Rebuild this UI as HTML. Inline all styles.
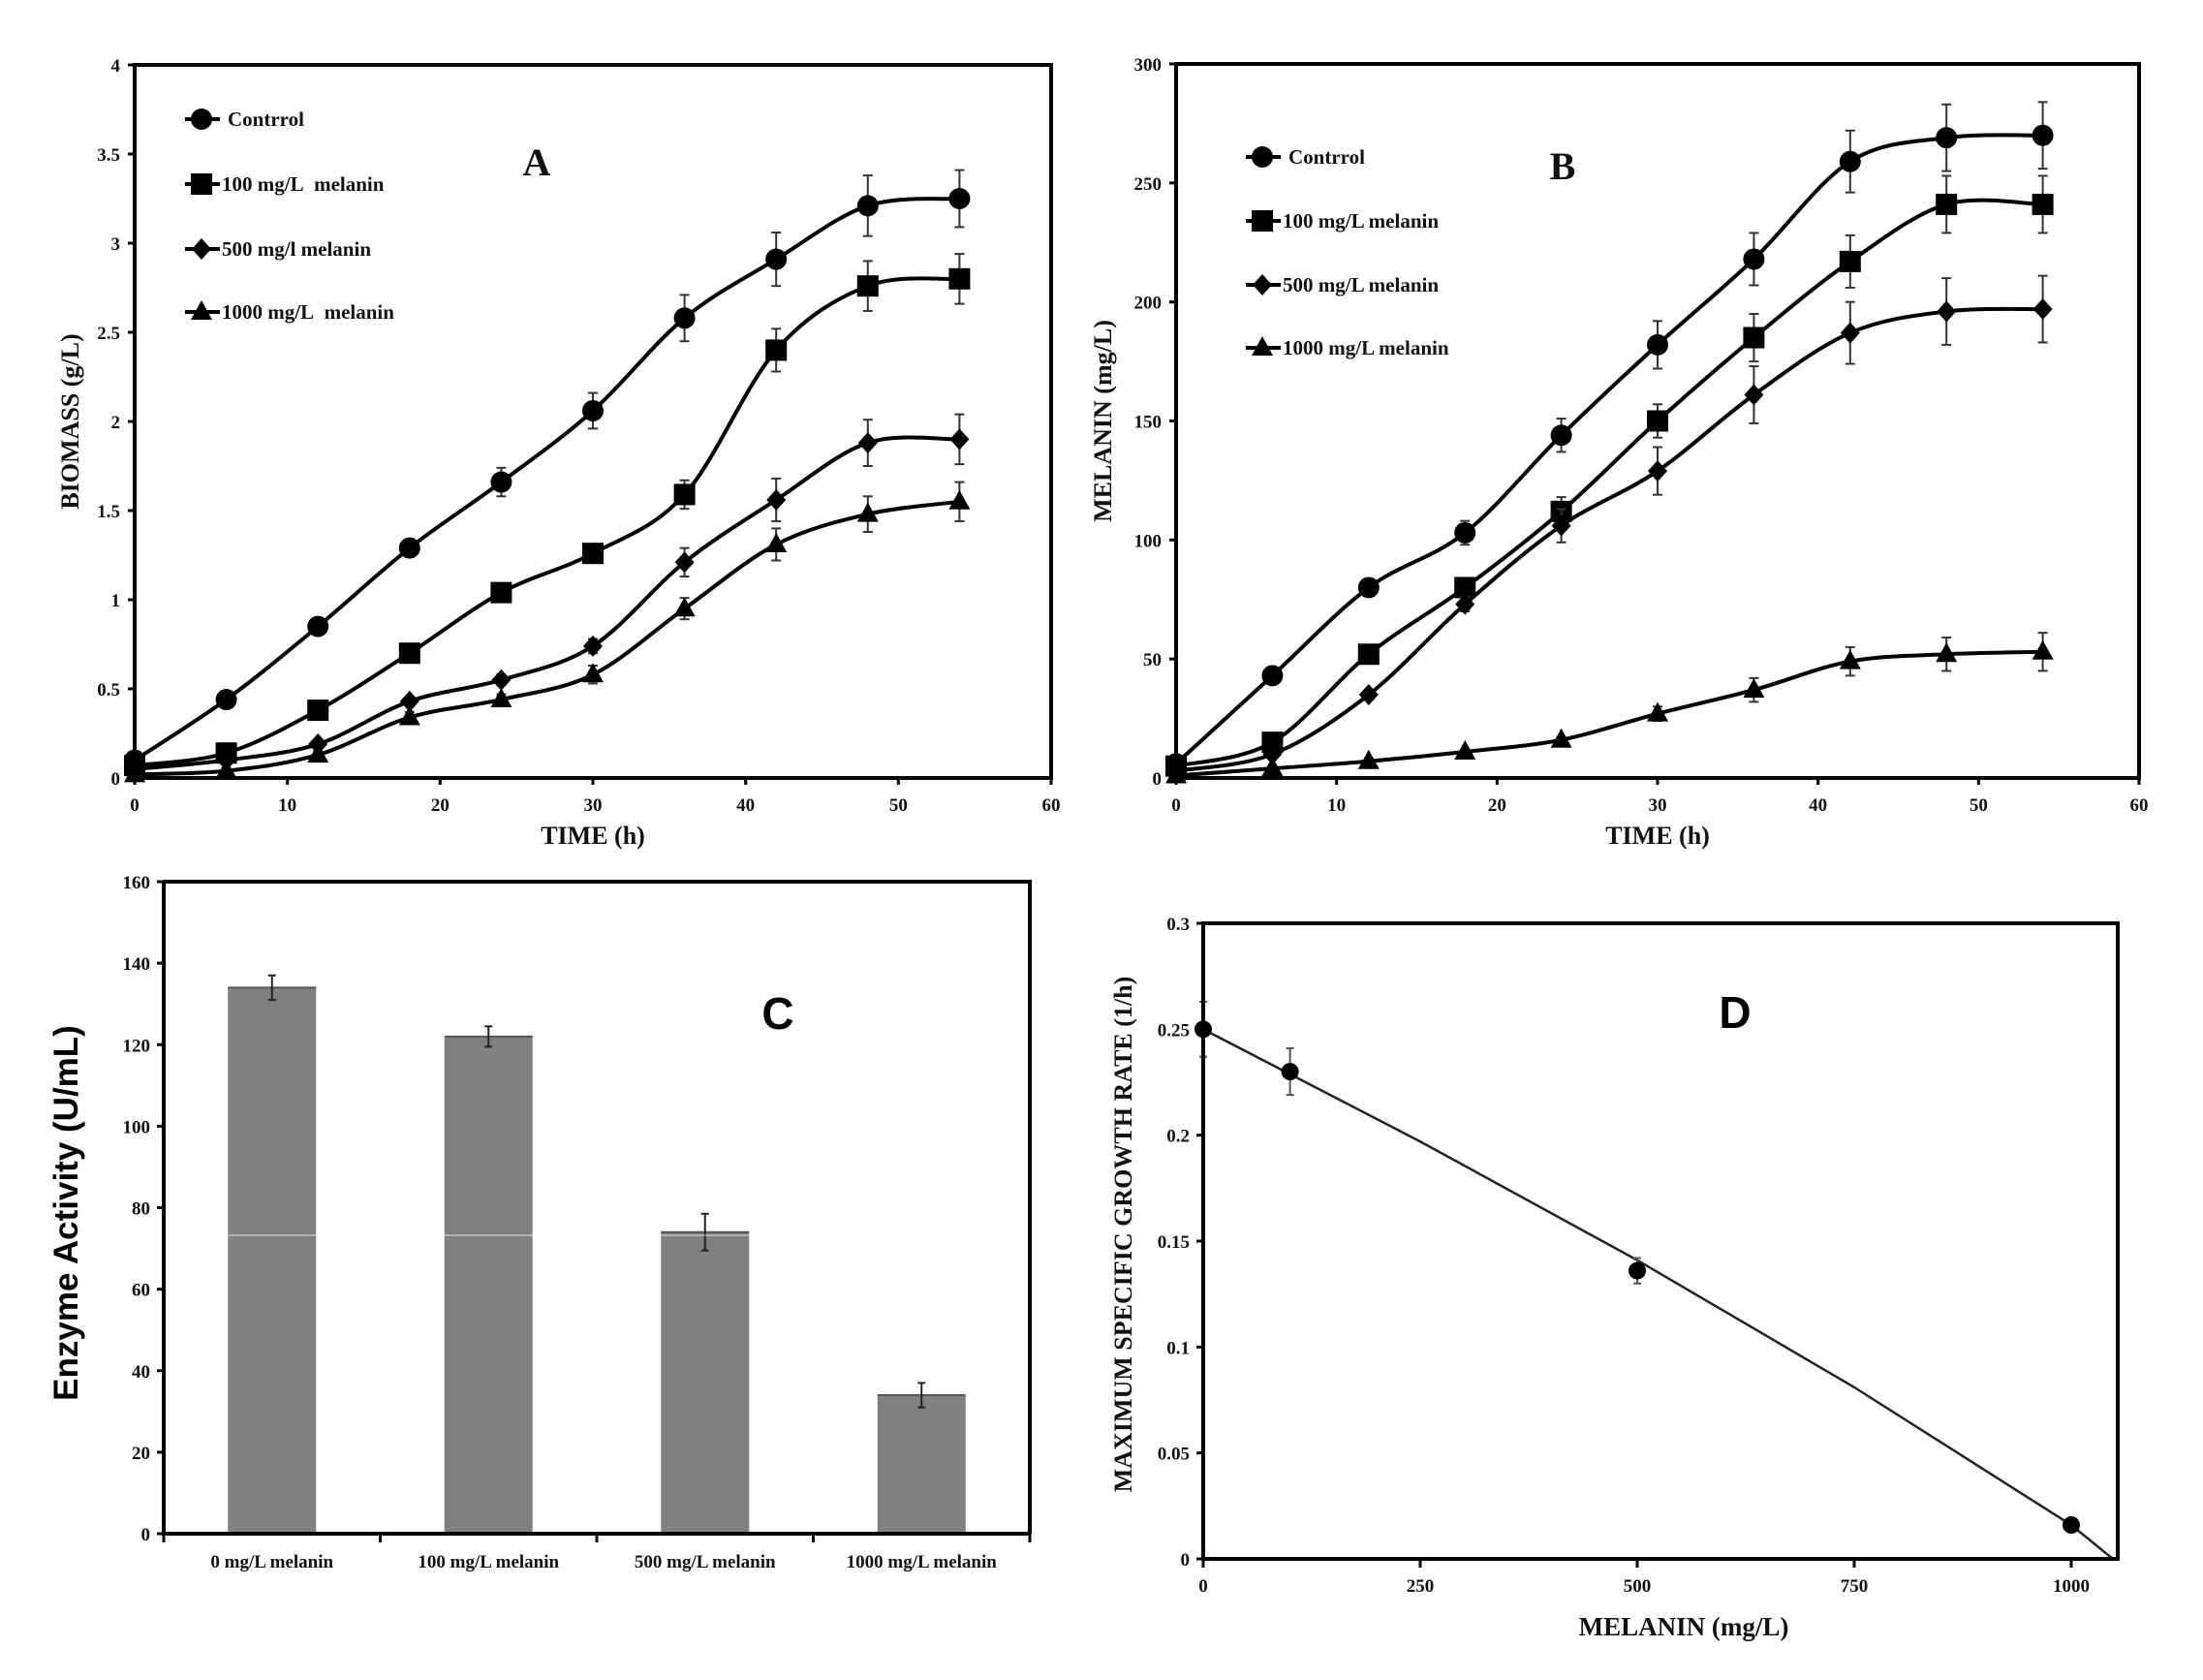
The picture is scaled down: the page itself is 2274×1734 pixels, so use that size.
<!DOCTYPE html>
<html><head><meta charset="utf-8"><style>
html,body{margin:0;padding:0;background:#fff;}
svg{display:block;}
.t{font-family:"Liberation Serif",serif;font-weight:bold;fill:#111;}
.s{font-family:"Liberation Sans",sans-serif;font-weight:bold;fill:#000;}
</style></head><body>
<svg id="fig" width="2274" height="1734" viewBox="0 0 2274 1734" xmlns="http://www.w3.org/2000/svg">
<rect width="2274" height="1734" fill="#fff"/>
</svg>
<script>
// ---------- DATA ----------
const timeH = [0,6,12,18,24,30,36,42,48,54];
const seriesNames = ["Contrrol","100 mg/L\u00a0 melanin","500 mg/l melanin","1000 mg/L\u00a0 melanin"];
const seriesNamesB = ["Contrrol","100 mg/L melanin","500 mg/L melanin","1000 mg/L melanin"];
const bioControl = [0.10,0.44,0.85,1.29,1.66,2.06,2.58,2.91,3.21,3.25];
const bio100 = [0.07,0.14,0.38,0.70,1.04,1.26,1.59,2.40,2.76,2.80];
const bio500 = [0.05,0.10,0.19,0.43,0.55,0.74,1.21,1.56,1.88,1.90];
const bio1000 = [0.02,0.04,0.13,0.34,0.44,0.58,0.95,1.31,1.48,1.55];
const bioErrControl = [0.02,0.02,0.03,0.05,0.08,0.10,0.13,0.15,0.17,0.16];
const bioErr100 = [0.02,0.02,0.03,0.03,0.03,0.05,0.08,0.12,0.14,0.14];
const bioErr500 = [0.01,0.01,0.02,0.02,0.03,0.04,0.08,0.12,0.13,0.14];
const bioErr1000 = [0.01,0.01,0.02,0.03,0.03,0.05,0.06,0.09,0.10,0.11];
const melControl = [6,43,80,103,144,182,218,259,269,270];
const mel100 = [5,15,52,80,112,150,185,217,241,241];
const mel500 = [3,10,35,73,106,129,161,187,196,197];
const mel1000 = [1,4,7,11,16,27,37,49,52,53];
const melErrControl = [2,3,3,5,7,10,11,13,14,14];
const melErr100 = [2,2,3,3,6,7,10,11,12,12];
const melErr500 = [1,2,2,3,7,10,12,13,14,14];
const melErr1000 = [1,1,1,1,1,3,5,6,7,8];
const barCats = ["0 mg/L melanin","100 mg/L melanin","500 mg/L melanin","1000 mg/L melanin"];
const barVals = [134,122,74,34];
const barErr = [3,2.5,4.5,3];
const muX = [0,100,500,1000];
const muY = [0.25,0.23,0.136,0.016];
const muErr = [0.013,0.011,0.006,0.002];
const fitX = [0,250,500,750,1000,1048];
const fitY = [0.25,0.197,0.141,0.081,0.016,0];
const ticksA = ["0","0.5","1","1.5","2","2.5","3","3.5","4"];
const ticksB = ["0","50","100","150","200","250","300"];
const ticksTime = ["0","10","20","30","40","50","60"];
const ticksC = ["0","20","40","60","80","100","120","140","160"];
const ticksDY = ["0","0.05","0.1","0.15","0.2","0.25","0.3"];
const ticksDX = ["0","250","500","750","1000"];

// ---------- HELPERS ----------
const NS="http://www.w3.org/2000/svg";
const svg=document.getElementById('fig');
function mk(tag,attrs,parent){const e=document.createElementNS(NS,tag);for(const k in attrs)e.setAttribute(k,attrs[k]);(parent||svg).appendChild(e);return e;}
function txt(s,x,y,cls,size,anchor,parent,rot){const e=mk('text',{x:x,y:y,'class':cls,'font-size':size,'text-anchor':anchor||'middle'},parent);if(rot)e.setAttribute('transform','rotate(-90 '+x+' '+y+')');e.textContent=s;return e;}
function lin(a0,a1,p0,p1){return v=>p0+(v-a0)/(a1-a0)*(p1-p0);}
function spline(pts){let d='M'+pts[0][0]+','+pts[0][1];for(let i=0;i<pts.length-1;i++){const p0=pts[i-1]||pts[i],p1=pts[i],p2=pts[i+1],p3=pts[i+2]||p2;const c1x=p1[0]+(p2[0]-p0[0])/6,c1y=p1[1]+(p2[1]-p0[1])/6,c2x=p2[0]-(p3[0]-p1[0])/6,c2y=p2[1]-(p3[1]-p1[1])/6;d+=' C'+c1x+','+c1y+' '+c2x+','+c2y+' '+p2[0]+','+p2[1];}return d;}
function marker(kind,x,y,g){
  let e;
  if(kind===0)e=mk('circle',{cx:x,cy:y,r:11,fill:'#000'},g);
  else if(kind===1)e=mk('rect',{x:x-11,y:y-11,width:22,height:22,fill:'#000'},g);
  else if(kind===2)e=mk('polygon',{points:(x)+','+(y-11)+' '+(x+10)+','+y+' '+x+','+(y+11)+' '+(x-10)+','+y,fill:'#000'},g);
  else e=mk('polygon',{points:x+','+(y-12)+' '+(x+11)+','+(y+8)+' '+(x-11)+','+(y+8),fill:'#000'},g);
  return e;
}
function frame(L,R,T,B,name){
  const r=mk('rect',{x:L,y:T,width:R-L,height:B-T,fill:'none',stroke:'#000','stroke-width':4});
  
  
}

// ---------- LINE PANELS ----------
function linePanel(opt){
  const g=mk('g',{});
  
  
  const X=lin(0,60,opt.L,opt.R), Y=lin(0,opt.ymax,opt.B,opt.T);
  frame(opt.L,opt.R,opt.T,opt.B,opt.name+'-frame');
  opt.yt.forEach((s,i)=>{const v=i*opt.ystep;const y=Y(v);mk('line',{x1:opt.L-7,y1:y,x2:opt.L,y2:y,stroke:'#000','stroke-width':3},g);const t=txt(s,opt.L-15,y+7,'t',19,'end',g);});
  ticksTime.forEach((s,i)=>{const x=X(i*10);mk('line',{x1:x,y1:opt.B,x2:x,y2:opt.B+7,stroke:'#000','stroke-width':3},g);const t=txt(s,x,opt.B+34,'t',19,'middle',g);});
  opt.series.forEach((sv,k)=>{
    const sg=mk('g',{},g);
    
    
    const pts=timeH.map((t,i)=>[X(t),Y(sv[i])]);
    mk('path',{d:spline(pts),fill:'none',stroke:'#000','stroke-width':4},sg);
    timeH.forEach((t,i)=>{const x=X(t),e=opt.errs[k][i];
      if(e>0){mk('line',{x1:x,y1:Y(sv[i]-e),x2:x,y2:Y(sv[i]+e),stroke:'#333','stroke-width':2},sg);
        mk('line',{x1:x-5,y1:Y(sv[i]+e),x2:x+5,y2:Y(sv[i]+e),stroke:'#333','stroke-width':2},sg);
        mk('line',{x1:x-5,y1:Y(sv[i]-e),x2:x+5,y2:Y(sv[i]-e),stroke:'#333','stroke-width':2},sg);}
      const m=marker(k,x,Y(sv[i]),sg);
      
      
    });
  });
  opt.legNames.forEach((s,k)=>{
    const y=opt.legY[k];
    const lg=mk('g',{},g);
    
    
    mk('line',{x1:opt.legX-17,y1:y,x2:opt.legX+19,y2:y,stroke:'#000','stroke-width':4},lg);
    marker(k,opt.legX,y,lg);
    txt(s,opt.legX+(k===0?27:21),y+7,'t',21,'start',lg);
  });
  const p=txt(opt.letter,opt.letX,opt.letY,'t',40,'middle',g);
  const xt=txt('TIME (h)',(opt.L+opt.R)/2,871,'t',26,'middle',g);
  const yt=txt(opt.ytitle,opt.ytX,(opt.T+opt.B)/2,'t',26,'middle',g,true);
}
linePanel({name:'panel-a-biomass',L:139,R:1085,T:67,B:803,ymax:4,ystep:0.5,yt:ticksA,
  series:[bioControl,bio100,bio500,bio1000],errs:[bioErrControl,bioErr100,bioErr500,bioErr1000],
  legNames:seriesNames,legX:208,legY:[123,190,257,322],letter:'A',letX:554,letY:181,ytitle:'BIOMASS (g/L)',ytX:81});
linePanel({name:'panel-b-melanin',L:1214,R:2208,T:66,B:803,ymax:300,ystep:50,yt:ticksB,
  series:[melControl,mel100,mel500,mel1000],errs:[melErrControl,melErr100,melErr500,melErr1000],
  legNames:seriesNamesB,legX:1303,legY:[162,228,294,359],letter:'B',letX:1613,letY:185,ytitle:'MELANIN (mg/L)',ytX:1147});

// ---------- PANEL C ----------
(function(){
  const L=169,R=1063,T=910,B=1583;
  const g=mk('g',{});
  
  
  const Y=lin(0,160,B,T), bw=(R-L)/barCats.length;
  barCats.forEach((c,i)=>{
    const cx=L+bw*(i+0.5),v=barVals[i],e=barErr[i];
    const b=mk('rect',{x:cx-45.5,y:Y(v),width:91,height:B-Y(v),fill:'#808080'},g);
    
    
    mk('line',{x1:cx-45.5,y1:Y(v),x2:cx+45.5,y2:Y(v),stroke:'#555','stroke-width':2},g);
    mk('line',{x1:cx,y1:Y(v+e),x2:cx,y2:Y(v-e),stroke:'#222','stroke-width':2},g);
    mk('line',{x1:cx-4,y1:Y(v+e),x2:cx+4,y2:Y(v+e),stroke:'#222','stroke-width':2},g);
    mk('line',{x1:cx-4,y1:Y(v-e),x2:cx+4,y2:Y(v-e),stroke:'#222','stroke-width':2},g);
    const t=txt(c,cx,1618,'t',19,'middle',g);
  });
  mk('line',{x1:L,y1:1275,x2:R,y2:1275,stroke:'#fff','stroke-width':1.5,opacity:0.5},g);
  for(let i=0;i<=barCats.length;i++){const x=L+bw*i;mk('line',{x1:x,y1:B,x2:x,y2:B+9,stroke:'#000','stroke-width':3},g);}
  ticksC.forEach((s,i)=>{const y=Y(i*20);mk('line',{x1:L-7,y1:y,x2:L,y2:y,stroke:'#000','stroke-width':3},g);const t=txt(s,L-14,y+7,'t',19,'end',g);});
  mk('polyline',{points:L+','+T+' '+R+','+T+' '+R+','+B,fill:'none',stroke:'#000','stroke-width':4},g);
  mk('polyline',{points:L+','+T+' '+L+','+B+' '+R+','+B,fill:'none',stroke:'#000','stroke-width':4},g);
  const p=txt('C',803,1062,'s',46,'middle',g);
  const yt=txt('Enzyme Activity (U/mL)',80,1252,'s',35,'middle',g,true);
})();

// ---------- PANEL D ----------
(function(){
  const L=1242,R=2186,T=953,B=1609;
  const g=mk('g',{});
  
  
  const X=lin(0,1000,L,2138), Y=lin(0,0.3,B,T);
  frame(L,R,T,B,'panel-d-frame');
  ticksDY.forEach((s,i)=>{const y=Y(i*0.05);mk('line',{x1:L-7,y1:y,x2:L,y2:y,stroke:'#000','stroke-width':3},g);const t=txt(s,L-14,y+7,'t',19,'end',g);});
  ticksDX.forEach((s,i)=>{const x=X(i*250);mk('line',{x1:x,y1:B,x2:x,y2:B+9,stroke:'#000','stroke-width':3},g);const t=txt(s,x,B+34,'t',19,'middle',g);});
  const fit=mk('polyline',{points:fitX.map((x,i)=>X(x)+','+Y(fitY[i])).join(' '),fill:'none',stroke:'#222','stroke-width':2.5},g);
  
  
  muX.forEach((m,i)=>{const x=X(m),y=Y(muY[i]),e=muErr[i];
    mk('line',{x1:x,y1:Y(muY[i]+e),x2:x,y2:Y(muY[i]-e),stroke:'#555','stroke-width':2},g);
    mk('line',{x1:x-4,y1:Y(muY[i]+e),x2:x+4,y2:Y(muY[i]+e),stroke:'#555','stroke-width':2},g);
    mk('line',{x1:x-4,y1:Y(muY[i]-e),x2:x+4,y2:Y(muY[i]-e),stroke:'#555','stroke-width':2},g);
    const c=mk('circle',{cx:x,cy:y,r:9,fill:'#000'},g);
    
    
  });
  const p=txt('D',1791,1061,'s',46,'middle',g);
  const xt=txt('MELANIN (mg/L)',1738,1688,'t',27,'middle',g);
  const yt=txt('MAXIMUM SPECIFIC GROWTH RATE (1/h)',1168,1274,'t',26,'middle',g,true);
})();
</script>
</body></html>
